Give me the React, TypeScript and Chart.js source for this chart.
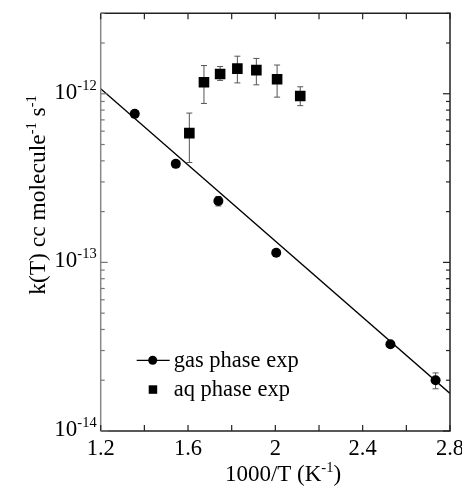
import React, { useEffect, useRef } from 'react';
import { Chart, registerables, Plugin } from 'chart.js';

Chart.register(...registerables);

// gas phase measurements (1000/T, k)
const gasX = [1.356, 1.544, 1.739, 2.004, 2.527, 2.734];
const gasK = [7.6e-13, 3.84e-13, 2.31e-13, 1.14e-13, 3.27e-14, 2.0e-14];
const gasLow = [7.3e-13, 3.75e-13, 2.16e-13, 1.1e-13, 3.2e-14, 1.78e-14];
const gasHigh = [7.9e-13, 3.93e-13, 2.46e-13, 1.18e-13, 3.35e-14, 2.21e-14];

// aqueous phase measurements
const aqX = [1.606, 1.673, 1.747, 1.826, 1.913, 2.008, 2.114];
const aqK = [5.84e-13, 1.17e-12, 1.31e-12, 1.41e-12, 1.38e-12, 1.22e-12, 9.7e-13];
const aqLow = [3.91e-13, 8.76e-13, 1.2e-12, 1.16e-12, 1.13e-12, 9.55e-13, 8.5e-13];
const aqHigh = [7.68e-13, 1.47e-12, 1.45e-12, 1.67e-12, 1.62e-12, 1.48e-12, 1.1e-12];

// Arrhenius fit line end points
const fitX = [1.2, 2.8];
const fitK = [1.07e-12, 1.67e-14];

// axes
const xTicks = [1.2, 1.6, 2.0, 2.4, 2.8];
const xTickLabels = ['1.2', '1.6', '2', '2.4', '2.8'];
const xMinorTicks = [1.4, 1.8, 2.2, 2.6];
const yDecades = [1e-14, 1e-13, 1e-12];
const yDecadeExps = ['-14', '-13', '-12'];

const legendLabels = ['gas phase exp', 'aq phase exp'];

const FONT = '"Liberation Serif", "Times New Roman", serif';

type Part = { t: string; sup?: boolean };

const drawRich = (ctx: CanvasRenderingContext2D, parts: Part[], x: number, y: number, align: 'left' | 'center' | 'right', size: number, supSize: number, rise: number) => {
  const widths = parts.map(p => {
    ctx.font = `${p.sup ? supSize : size}px ${FONT}`;
    return ctx.measureText(p.t).width;
  });
  const total = widths.reduce((a, b) => a + b, 0);
  let cx = align === 'left' ? x : align === 'center' ? x - total / 2 : x - total;
  ctx.textAlign = 'left';
  ctx.textBaseline = 'alphabetic';
  parts.forEach((p, i) => {
    ctx.font = `${p.sup ? supSize : size}px ${FONT}`;
    ctx.fillText(p.t, cx, p.sup ? y - rise : y);
    cx += widths[i];
  });
};

const errorBars: Plugin = {
  id: 'errorBars',
  beforeDatasetsDraw(chart) {
    const { ctx } = chart;
    const xs = chart.scales.x;
    const ys = chart.scales.y;
    ctx.save();
    ctx.strokeStyle = '#555';
    ctx.lineWidth = 1;
    const draw = (xv: number[], lo: number[], hi: number[]) => {
      xv.forEach((v, i) => {
        const px = xs.getPixelForValue(v);
        const p1 = ys.getPixelForValue(lo[i]);
        const p2 = ys.getPixelForValue(hi[i]);
        ctx.beginPath();
        ctx.moveTo(px, p1);
        ctx.lineTo(px, p2);
        ctx.moveTo(px - 3, p1);
        ctx.lineTo(px + 3, p1);
        ctx.moveTo(px - 3, p2);
        ctx.lineTo(px + 3, p2);
        ctx.stroke();
      });
    };
    draw(gasX, gasLow, gasHigh);
    draw(aqX, aqLow, aqHigh);
    ctx.restore();
  },
};

const frameAndLabels: Plugin = {
  id: 'frameAndLabels',
  afterDraw(chart) {
    const { ctx, chartArea: a } = chart;
    const xs = chart.scales.x;
    const ys = chart.scales.y;
    ctx.save();

    // frame
    ctx.lineWidth = 1.5;
    ctx.strokeStyle = '#222';
    ctx.beginPath();
    ctx.moveTo(a.left, a.top);
    ctx.lineTo(a.right, a.top);
    ctx.lineTo(a.right, a.bottom);
    ctx.lineTo(a.left, a.bottom);
    ctx.stroke();
    ctx.strokeStyle = '#888';
    ctx.beginPath();
    ctx.moveTo(a.left, a.top);
    ctx.lineTo(a.left, a.bottom);
    ctx.stroke();

    // x ticks, inward on bottom and top
    ctx.lineWidth = 1.2;
    ctx.strokeStyle = '#222';
    [...xTicks, ...xMinorTicks].forEach(v => {
      const px = xs.getPixelForValue(v);
      ctx.beginPath();
      ctx.moveTo(px, a.bottom);
      ctx.lineTo(px, a.bottom - 6);
      ctx.moveTo(px, a.top);
      ctx.lineTo(px, a.top + 6);
      ctx.stroke();
    });

    // y ticks, decades long, 2..9 short
    const yMax = ys.max;
    yDecades.forEach(d => {
      for (let m = 1; m < 10; m++) {
        const v = d * m;
        if (v > yMax * 1.0001) break;
        const py = ys.getPixelForValue(v);
        const len = m === 1 ? 7 : 4;
        ctx.strokeStyle = '#777';
        ctx.beginPath();
        ctx.moveTo(a.left, py);
        ctx.lineTo(a.left + len, py);
        ctx.stroke();
        ctx.strokeStyle = '#222';
        ctx.beginPath();
        ctx.moveTo(a.right, py);
        ctx.lineTo(a.right - len, py);
        ctx.stroke();
      }
    });

    ctx.fillStyle = '#000';

    // x tick labels
    ctx.font = `22.5px ${FONT}`;
    ctx.textAlign = 'center';
    ctx.textBaseline = 'alphabetic';
    xTicks.forEach((v, i) => {
      ctx.fillText(xTickLabels[i], xs.getPixelForValue(v), a.bottom + 24);
    });

    // y tick labels
    yDecades.forEach((d, i) => {
      const py = ys.getPixelForValue(d);
      drawRich(ctx, [{ t: '10' }, { t: yDecadeExps[i], sup: true }], a.left - 4, py + 5, 'right', 23, 14.5, 9);
    });

    // x title
    drawRich(ctx, [{ t: '1000/T (K' }, { t: '-1', sup: true }, { t: ')' }], 283, 481, 'center', 23, 14.5, 9);

    // y title
    ctx.save();
    ctx.translate(45, 195);
    ctx.rotate(-Math.PI / 2);
    drawRich(ctx, [{ t: 'k(T) cc molecule' }, { t: '-1', sup: true }, { t: ' s' }, { t: '-1', sup: true }], 0, 0, 'center', 23.5, 14.5, 9);
    ctx.restore();

    // legend
    ctx.strokeStyle = '#000';
    ctx.lineWidth = 1.3;
    ctx.beginPath();
    ctx.moveTo(a.left + 36, a.top + 347);
    ctx.lineTo(a.left + 69, a.top + 347);
    ctx.stroke();
    ctx.beginPath();
    ctx.arc(a.left + 52, a.top + 347, 4.5, 0, Math.PI * 2);
    ctx.fill();
    ctx.fillRect(a.left + 48, a.top + 372, 8.5, 8.5);
    ctx.font = `22.5px ${FONT}`;
    ctx.textAlign = 'left';
    ctx.fillText(legendLabels[0], a.left + 73, a.top + 354);
    ctx.fillText(legendLabels[1], a.left + 73, a.top + 383);

    ctx.restore();
  },
};

const ArrheniusChart = () => {
  const canvasRef = useRef<HTMLCanvasElement | null>(null);
  const chartInstance = useRef<Chart | null>(null);

  useEffect(() => {
    if (!canvasRef.current) return;
    const ctx = canvasRef.current.getContext('2d');
    if (!ctx) return;

    chartInstance.current = new Chart(ctx, {
      type: 'scatter',
      data: {
        datasets: [
          {
            label: 'fit',
            data: fitX.map((x, i) => ({ x, y: fitK[i] })),
            showLine: true,
            borderColor: '#000',
            borderWidth: 1.3,
            pointRadius: 0,
          },
          {
            label: legendLabels[0],
            data: gasX.map((x, i) => ({ x, y: gasK[i] })),
            pointStyle: 'circle',
            pointRadius: 5,
            backgroundColor: '#000',
            borderColor: '#000',
            borderWidth: 0,
          },
          {
            label: legendLabels[1],
            data: aqX.map((x, i) => ({ x, y: aqK[i] })),
            pointStyle: 'rect',
            pointRadius: 7.5,
            backgroundColor: '#000',
            borderColor: '#000',
            borderWidth: 0,
          },
        ],
      },
      options: {
        responsive: false,
        animation: false,
        layout: { padding: { left: 100.7, top: 13.3, right: 12, bottom: 56 } },
        scales: {
          x: { type: 'linear', min: 1.2, max: 2.8, display: false },
          y: { type: 'logarithmic', min: 1e-14, max: 3e-12, display: false },
        },
        plugins: {
          legend: { display: false },
          tooltip: { enabled: false },
        },
      },
      plugins: [errorBars, frameAndLabels],
    });

    return () => {
      if (chartInstance.current) {
        chartInstance.current.destroy();
        chartInstance.current = null;
      }
    };
  }, []);

  return <canvas ref={canvasRef} width={462} height={487} style={{ display: 'block' }} />;
};

export default function App() {
  return (
    <div style={{ position: 'fixed', left: 0, top: 0, width: 462, height: 487, background: '#fff' }}>
      <ArrheniusChart />
    </div>
  );
}
